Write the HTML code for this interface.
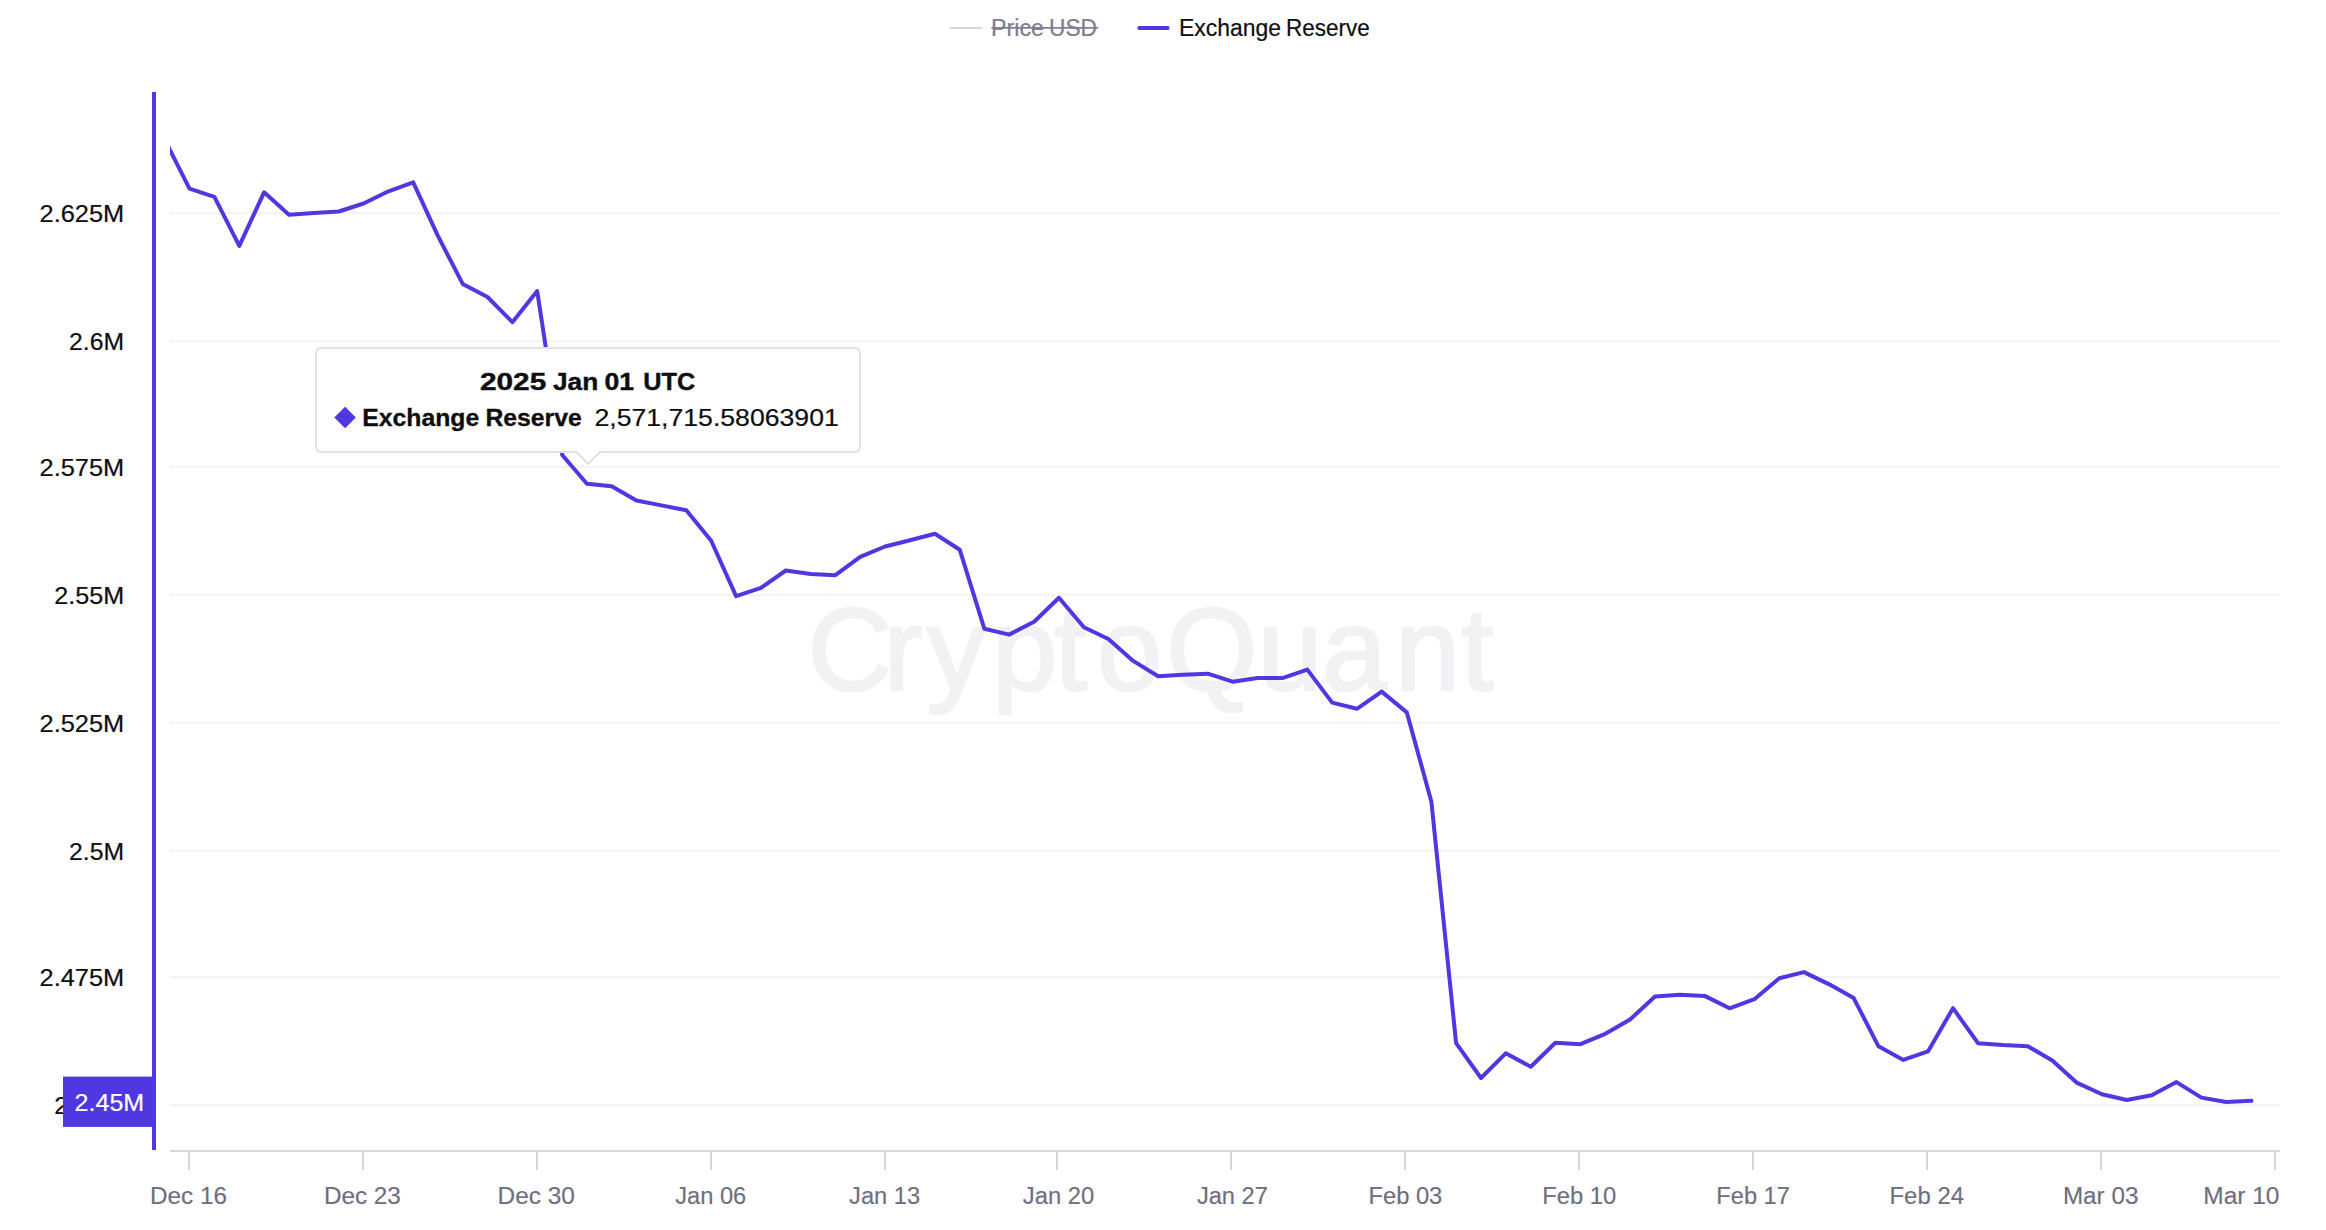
<!DOCTYPE html>
<html lang="en">
<head>
<meta charset="utf-8">
<title>Exchange Reserve</title>
<style>
html,body{margin:0;padding:0;background:#fff;}
body{width:2326px;height:1230px;overflow:hidden;}
svg{display:block;}
text{font-family:"Liberation Sans",Arial,Helvetica,sans-serif;}
</style>
</head>
<body>
<svg width="2326" height="1230" viewBox="0 0 2326 1230">
<rect x="0" y="0" width="2326" height="1230" fill="#ffffff"/>
<defs><clipPath id="plot"><rect x="170" y="80" width="2110" height="1072"/></clipPath></defs>
<g id="legend">
<rect x="950" y="27" width="32" height="2" fill="#d6d6df"/>
<text x="991.0" y="36.0" font-size="23.3" font-weight="normal" fill="#7d7d8f" stroke="#7d7d8f" stroke-width="0.2" textLength="53.0" lengthAdjust="spacingAndGlyphs">Price</text>
<text x="1049.0" y="36.0" font-size="23.3" font-weight="normal" fill="#7d7d8f" stroke="#7d7d8f" stroke-width="0.2" textLength="48.0" lengthAdjust="spacingAndGlyphs">USD</text>
<rect x="991.5" y="27" width="106.8" height="1.7" fill="#7d7d8f"/>
<line x1="1139.4" y1="28" x2="1167.6" y2="28" stroke="#4f37e1" stroke-width="4.2" stroke-linecap="round"/>
<text x="1179.0" y="36.0" font-size="23.3" font-weight="normal" fill="#0e0e10" stroke="#0e0e10" stroke-width="0.2" textLength="102.0" lengthAdjust="spacingAndGlyphs">Exchange</text>
<text x="1286.0" y="36.0" font-size="23.3" font-weight="normal" fill="#0e0e10" stroke="#0e0e10" stroke-width="0.2" textLength="83.75" lengthAdjust="spacingAndGlyphs">Reserve</text>
</g>
<g id="grid">
<rect x="170" y="212" width="2110" height="2" fill="#f4f4f7"/>
<rect x="170" y="340" width="2110" height="2" fill="#f4f4f7"/>
<rect x="170" y="466" width="2110" height="2" fill="#f4f4f7"/>
<rect x="170" y="594" width="2110" height="2" fill="#f4f4f7"/>
<rect x="170" y="722" width="2110" height="2" fill="#f4f4f7"/>
<rect x="170" y="850" width="2110" height="2" fill="#f4f4f7"/>
<rect x="170" y="976" width="2110" height="2" fill="#f4f4f7"/>
<rect x="170" y="1104" width="2110" height="2" fill="#f4f4f7"/>
</g>
<text x="807.6 883.6 927.0 992.2 1054.6 1097.0 1166.2 1257.6 1321.7 1395.0 1461.0" y="690.3" font-size="117" fill="#f2f2f5" stroke="#f2f2f5" stroke-width="2.5">CryptoQuant</text>
<g id="xaxis">
<rect x="170" y="1150" width="2110" height="2" fill="#d4d3de"/>
<rect x="188" y="1151" width="2" height="19" fill="#d4d3de"/>
<rect x="362" y="1151" width="2" height="19" fill="#d4d3de"/>
<rect x="536" y="1151" width="2" height="19" fill="#d4d3de"/>
<rect x="710" y="1151" width="2" height="19" fill="#d4d3de"/>
<rect x="884" y="1151" width="2" height="19" fill="#d4d3de"/>
<rect x="1056" y="1151" width="2" height="19" fill="#d4d3de"/>
<rect x="1230" y="1151" width="2" height="19" fill="#d4d3de"/>
<rect x="1404" y="1151" width="2" height="19" fill="#d4d3de"/>
<rect x="1578" y="1151" width="2" height="19" fill="#d4d3de"/>
<rect x="1752" y="1151" width="2" height="19" fill="#d4d3de"/>
<rect x="1926" y="1151" width="2" height="19" fill="#d4d3de"/>
<rect x="2100" y="1151" width="2" height="19" fill="#d4d3de"/>
<rect x="2274" y="1151" width="2" height="19" fill="#d4d3de"/>
<text x="150.0" y="1204.1" font-size="23.0" font-weight="normal" fill="#6e6e80" stroke="#6e6e80" stroke-width="0.15" textLength="77.0" lengthAdjust="spacingAndGlyphs">Dec 16</text>
<text x="323.9" y="1204.1" font-size="23.0" font-weight="normal" fill="#6e6e80" stroke="#6e6e80" stroke-width="0.15" textLength="77.0" lengthAdjust="spacingAndGlyphs">Dec 23</text>
<text x="497.55" y="1204.1" font-size="23.0" font-weight="normal" fill="#6e6e80" stroke="#6e6e80" stroke-width="0.15" textLength="77.25" lengthAdjust="spacingAndGlyphs">Dec 30</text>
<text x="675.2" y="1204.1" font-size="23.0" font-weight="normal" fill="#6e6e80" stroke="#6e6e80" stroke-width="0.15" textLength="71.0" lengthAdjust="spacingAndGlyphs">Jan 06</text>
<text x="849.1" y="1204.1" font-size="23.0" font-weight="normal" fill="#6e6e80" stroke="#6e6e80" stroke-width="0.15" textLength="71.0" lengthAdjust="spacingAndGlyphs">Jan 13</text>
<text x="1022.75" y="1204.1" font-size="23.0" font-weight="normal" fill="#6e6e80" stroke="#6e6e80" stroke-width="0.15" textLength="71.5" lengthAdjust="spacingAndGlyphs">Jan 20</text>
<text x="1196.9" y="1204.1" font-size="23.0" font-weight="normal" fill="#6e6e80" stroke="#6e6e80" stroke-width="0.15" textLength="71.0" lengthAdjust="spacingAndGlyphs">Jan 27</text>
<text x="1368.55" y="1204.1" font-size="23.0" font-weight="normal" fill="#6e6e80" stroke="#6e6e80" stroke-width="0.15" textLength="73.75" lengthAdjust="spacingAndGlyphs">Feb 03</text>
<text x="1542.2" y="1204.1" font-size="23.0" font-weight="normal" fill="#6e6e80" stroke="#6e6e80" stroke-width="0.15" textLength="74.0" lengthAdjust="spacingAndGlyphs">Feb 10</text>
<text x="1716.35" y="1204.1" font-size="23.0" font-weight="normal" fill="#6e6e80" stroke="#6e6e80" stroke-width="0.15" textLength="73.5" lengthAdjust="spacingAndGlyphs">Feb 17</text>
<text x="1889.5" y="1204.1" font-size="23.0" font-weight="normal" fill="#6e6e80" stroke="#6e6e80" stroke-width="0.15" textLength="74.5" lengthAdjust="spacingAndGlyphs">Feb 24</text>
<text x="2062.9" y="1204.1" font-size="23.0" font-weight="normal" fill="#6e6e80" stroke="#6e6e80" stroke-width="0.15" textLength="75.5" lengthAdjust="spacingAndGlyphs">Mar 03</text>
<text x="2203.25" y="1204.1" font-size="23.0" font-weight="normal" fill="#6e6e80" stroke="#6e6e80" stroke-width="0.15" textLength="76.25" lengthAdjust="spacingAndGlyphs">Mar 10</text>
</g>
<g id="yaxis">
<text x="39.5" y="222.2" font-size="23.5" font-weight="normal" fill="#0e0e10" stroke="#0e0e10" stroke-width="0.2" textLength="84.75" lengthAdjust="spacingAndGlyphs">2.625M</text>
<text x="69.0" y="350.2" font-size="23.5" font-weight="normal" fill="#0e0e10" stroke="#0e0e10" stroke-width="0.2" textLength="55.0" lengthAdjust="spacingAndGlyphs">2.6M</text>
<text x="39.5" y="476.2" font-size="23.5" font-weight="normal" fill="#0e0e10" stroke="#0e0e10" stroke-width="0.2" textLength="84.75" lengthAdjust="spacingAndGlyphs">2.575M</text>
<text x="54.25" y="604.2" font-size="23.5" font-weight="normal" fill="#0e0e10" stroke="#0e0e10" stroke-width="0.2" textLength="70.0" lengthAdjust="spacingAndGlyphs">2.55M</text>
<text x="39.5" y="732.2" font-size="23.5" font-weight="normal" fill="#0e0e10" stroke="#0e0e10" stroke-width="0.2" textLength="84.75" lengthAdjust="spacingAndGlyphs">2.525M</text>
<text x="69.0" y="860.2" font-size="23.5" font-weight="normal" fill="#0e0e10" stroke="#0e0e10" stroke-width="0.2" textLength="55.0" lengthAdjust="spacingAndGlyphs">2.5M</text>
<text x="39.5" y="986.2" font-size="23.5" font-weight="normal" fill="#0e0e10" stroke="#0e0e10" stroke-width="0.2" textLength="84.75" lengthAdjust="spacingAndGlyphs">2.475M</text>
<text x="54.25" y="1114.2" font-size="23.5" font-weight="normal" fill="#0e0e10" stroke="#0e0e10" stroke-width="0.2" textLength="70.0" lengthAdjust="spacingAndGlyphs">2.45M</text>
<rect x="152" y="92" width="4" height="1058" fill="#4f37e1"/>
<rect x="63" y="1076.6" width="90" height="50.3" fill="#4f37e1"/>
<text x="74.5" y="1110.9" font-size="23.5" font-weight="normal" fill="#ffffff" stroke="#ffffff" stroke-width="0.2" textLength="69.75" lengthAdjust="spacingAndGlyphs">2.45M</text>
</g>
<path d="M164.3 138.8 L189.5 188.7 L214.4 196.8 L239.3 245.9 L264.1 192.3 L289.0 214.7 L313.8 212.9 L338.8 211.5 L363.5 203.5 L388.5 191.3 L413.2 182.3 L437.9 235.9 L462.7 283.9 L487.5 297.0 L512.4 322.2 L537.2 291.1 L562.2 455.0 L586.9 483.7 L611.7 486.2 L636.4 500.5 L661.4 505.4 L686.3 510.2 L711.2 540.8 L736.1 596.1 L761.0 587.8 L785.8 570.5 L810.7 573.9 L835.4 575.2 L860.2 556.8 L885.1 546.5 L910.0 540.2 L934.9 533.7 L959.8 549.8 L984.4 628.8 L1009.2 634.6 L1034.1 621.8 L1059.0 597.8 L1083.9 627.3 L1108.4 639.0 L1133.2 660.9 L1158.1 676.2 L1182.9 674.8 L1207.8 673.7 L1232.7 681.7 L1257.6 678.1 L1282.4 678.1 L1307.3 669.6 L1332.2 702.6 L1356.9 708.8 L1381.7 691.6 L1406.8 712.4 L1431.4 801.7 L1456.1 1043.1 L1481.0 1078.0 L1505.7 1053.3 L1530.8 1066.7 L1555.4 1042.8 L1580.4 1044.2 L1605.3 1033.8 L1630.1 1019.5 L1655.0 996.5 L1679.8 994.8 L1704.7 995.9 L1729.6 1008.3 L1754.4 999.2 L1779.3 978.3 L1803.9 972.1 L1828.8 984.1 L1853.7 998.1 L1878.5 1046.3 L1903.3 1059.9 L1928.0 1051.4 L1953.0 1008.2 L1978.0 1043.2 L2002.9 1045.1 L2027.8 1046.2 L2052.3 1060.5 L2077.1 1082.9 L2102.0 1094.2 L2126.8 1100.0 L2151.7 1095.3 L2176.5 1082.1 L2201.4 1097.6 L2226.2 1102.0 L2251.5 1100.8" fill="none" stroke="#4f37e1" stroke-width="4" stroke-linejoin="round" stroke-linecap="round" clip-path="url(#plot)"/>
<g id="tooltip">
<path d="M321 348 H855 a5 5 0 0 1 5 5 V447 a5 5 0 0 1 -5 5 H599.9 L588.2 463.9 L576.5 452 H321 a5 5 0 0 1 -5 -5 V353 a5 5 0 0 1 5 -5 Z" fill="#ffffff" stroke="#e0e0e8" stroke-width="2" stroke-linejoin="miter"/>
<text x="480.0" y="390.0" font-size="24.2" font-weight="bold" fill="#0e0e10" stroke="#0e0e10" stroke-width="0.4" textLength="66.25" lengthAdjust="spacingAndGlyphs">2025</text>
<text x="553.0" y="390.0" font-size="24.2" font-weight="bold" fill="#0e0e10" stroke="#0e0e10" stroke-width="0.4" textLength="45.25" lengthAdjust="spacingAndGlyphs">Jan</text>
<text x="604.5" y="390.0" font-size="24.2" font-weight="bold" fill="#0e0e10" stroke="#0e0e10" stroke-width="0.4" textLength="29.5" lengthAdjust="spacingAndGlyphs">01</text>
<text x="643.25" y="390.0" font-size="24.2" font-weight="bold" fill="#0e0e10" stroke="#0e0e10" stroke-width="0.4" textLength="52.0" lengthAdjust="spacingAndGlyphs">UTC</text>
<path d="M345.1 406.8 L355.9 417.5 L345.1 428.2 L334.3 417.5 Z" fill="#4f37e1"/>
<text x="362.25" y="426.2" font-size="23.5" font-weight="bold" fill="#0e0e10" stroke="#0e0e10" stroke-width="0.3" textLength="117.0" lengthAdjust="spacingAndGlyphs">Exchange</text>
<text x="485.5" y="426.2" font-size="23.5" font-weight="bold" fill="#0e0e10" stroke="#0e0e10" stroke-width="0.3" textLength="96.25" lengthAdjust="spacingAndGlyphs">Reserve</text>
<text x="594.5" y="426.2" font-size="23.5" font-weight="normal" fill="#0e0e10" stroke="#0e0e10" stroke-width="0.2" textLength="244.25" lengthAdjust="spacingAndGlyphs">2,571,715.58063901</text>
</g>
</svg>
</body>
</html>
